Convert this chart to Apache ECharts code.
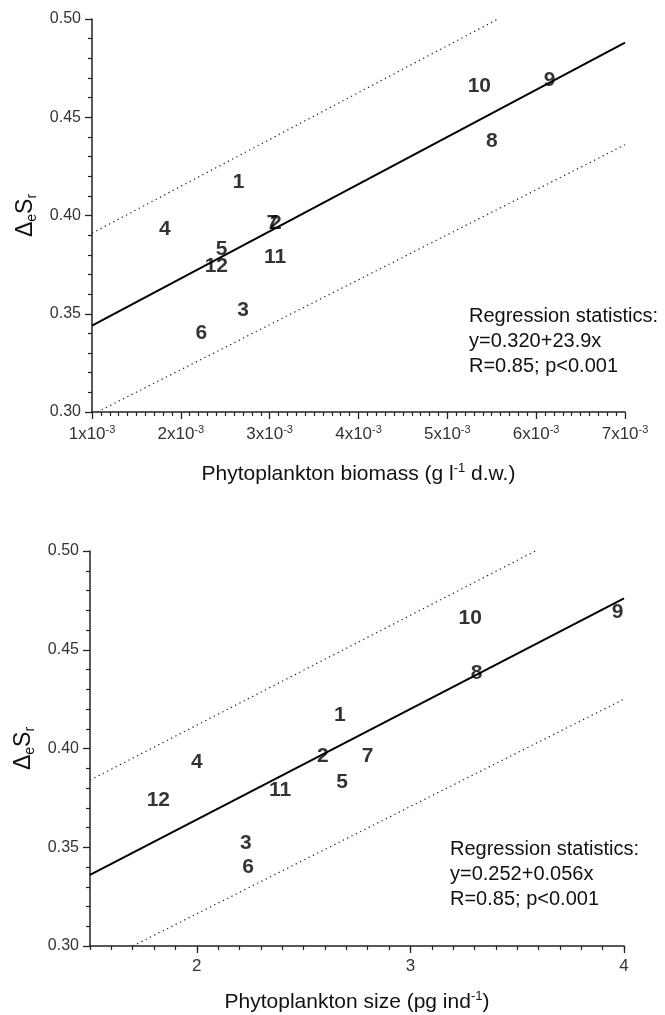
<!DOCTYPE html>
<html>
<head>
<meta charset="utf-8">
<script src="https://cdn.jsdelivr.net/npm/echarts@6/dist/echarts.min.js"></script>
<style>
  html, body { margin: 0; padding: 0; background: #fff; }
  #chart { width: 665px; height: 1015px; }
</style>
</head>
<body>
<div id="chart"></div>
<script>
// stations 1..12
const stations = ['1', '2', '3', '4', '5', '6', '7', '8', '9', '10', '11', '12']
const deltaSr = [0.417, 0.396, 0.352, 0.393, 0.383, 0.340, 0.396, 0.438, 0.469, 0.466, 0.379, 0.374]
const biomass = [0.00265, 0.00307, 0.00270, 0.00182, 0.00246, 0.00223, 0.00303, 0.00550, 0.00615, 0.00536, 0.00306, 0.00240]
const sizePg = [2.67, 2.59, 2.23, 2.00, 2.68, 2.24, 2.80, 3.31, 3.97, 3.28, 2.39, 1.82]

// regression + band lines
const fitBiomassX = [0.001, 0.007]
const fitBiomassY = [0.344, 0.488]
const upperBiomassX = [0.001, 0.00557]
const upperBiomassY = [0.391, 0.500]
const lowerBiomassX = [0.00106, 0.007]
const lowerBiomassY = [0.300, 0.436]

const fitSizeX = [1.5, 4.0]
const fitSizeY = [0.336, 0.476]
const upperSizeX = [1.5, 3.585]
const upperSizeY = [0.384, 0.500]
const lowerSizeX = [1.70, 4.0]
const lowerSizeY = [0.300, 0.425]

const sizeTickLabels = [2, 3, 4]
const statsBiomass = ['Regression statistics:', 'y=0.320+23.9x', 'R=0.85; p<0.001']
const statsSize = ['Regression statistics:', 'y=0.252+0.056x', 'R=0.85; p<0.001']

const FONT = 'Liberation Sans, Arial, sans-serif'
const INK = '#111'

function pairs(xs, ys) {
  return xs.map((x, i) => [x, ys[i]])
}

function yAxisFor(gridIndex, show) {
  return {
    type: 'value',
    gridIndex: gridIndex,
    show: show,
    min: 0.30,
    max: 0.50,
    interval: 0.05,
    name: '{a|Δ}{b|e}{a|S}{b|r}',
    nameLocation: 'middle',
    nameGap: 52,
    nameRotate: 90,
    nameTextStyle: {
      color: INK,
      fontFamily: FONT,
      rich: {
        a: { fontSize: 23, fontFamily: FONT, color: INK, lineHeight: 27 },
        b: { fontSize: 14, fontFamily: FONT, color: INK, verticalAlign: 'bottom', lineHeight: 27 }
      }
    },
    axisLine: { show: true, lineStyle: { color: '#222', width: 1.5 } },
    axisTick: { show: true, length: 7, lineStyle: { color: '#222', width: 1.3 } },
    minorTick: { show: true, splitNumber: 5, length: 4, lineStyle: { color: '#222', width: 1.2 } },
    axisLabel: {
      fontSize: 16,
      fontFamily: FONT,
      color: '#333',
      margin: 11,
      formatter: v => v.toFixed(2)
    },
    splitLine: { show: false },
    minorSplitLine: { show: false }
  }
}

function labelSeries(xs, xAxisIndex, yAxisIndex) {
  return {
    type: 'scatter',
    xAxisIndex: xAxisIndex,
    yAxisIndex: yAxisIndex,
    symbolSize: 1,
    itemStyle: { color: 'rgba(0,0,0,0)' },
    label: {
      show: true,
      position: 'inside',
      formatter: p => p.name,
      fontSize: 21,
      fontWeight: 'bold',
      fontFamily: FONT,
      color: '#000'
    },
    data: stations.map((s, i) => ({ name: s, value: [xs[i], deltaSr[i]] })),
    z: 5
  }
}

function lineSeries(data, xAxisIndex, yAxisIndex, dotted) {
  return {
    type: 'line',
    xAxisIndex: xAxisIndex,
    yAxisIndex: yAxisIndex,
    symbol: 'none',
    data: data,
    lineStyle: dotted
      ? { color: '#222', width: 1.2, type: [1.3, 3.5] }
      : { color: '#000', width: 2 },
    z: 3
  }
}

const chart = echarts.init(document.getElementById('chart'), null, { renderer: 'canvas' })

chart.setOption({
  animation: false,
  backgroundColor: '#fff',
  grid: [
    { left: 92, top: 19, right: 40, bottom: 603 },
    { left: 90, top: 551, right: 41, bottom: 69 },
    { left: 90, top: 551, right: 41, bottom: 69 }
  ],
  xAxis: [
    {
      type: 'value',
      gridIndex: 0,
      min: 0.001,
      max: 0.007,
      interval: 0.001,
      name: 'Phytoplankton biomass (g l{s|-1} d.w.)',
      nameLocation: 'middle',
      nameGap: 50,
      nameTextStyle: {
        fontSize: 21,
        fontFamily: FONT,
        color: INK,
        rich: { s: { fontSize: 13, fontFamily: FONT, color: INK, verticalAlign: 'top', lineHeight: 24 } }
      },
      axisLine: { onZero: false, lineStyle: { color: '#222', width: 1.5 } },
      axisTick: { length: 7, lineStyle: { color: '#222', width: 1.3 } },
      minorTick: { show: true, splitNumber: 10, length: 4, lineStyle: { color: '#222', width: 1.2 } },
      axisLabel: {
        margin: 12,
        color: '#333',
        fontFamily: FONT,
        fontSize: 17,
        formatter: v => '{a|' + Math.round(v * 1000) + 'x10}{s|-3}',
        rich: {
          a: { fontSize: 17, fontFamily: FONT, color: '#333', lineHeight: 21 },
          s: { fontSize: 11, fontFamily: FONT, color: '#333', verticalAlign: 'top', lineHeight: 21 }
        }
      },
      splitLine: { show: false },
      minorSplitLine: { show: false }
    },
    {
      // minor ticks for the size axis
      type: 'value',
      gridIndex: 1,
      min: 1.5,
      max: 4,
      interval: 0.1,
      axisLine: { onZero: false, lineStyle: { color: '#222', width: 1.5 } },
      axisTick: { length: 4, lineStyle: { color: '#222', width: 1.2 } },
      axisLabel: { show: false },
      splitLine: { show: false }
    },
    {
      type: 'value',
      gridIndex: 2,
      min: 1.5,
      max: 4,
      interval: 0.5,
      name: 'Phytoplankton size (pg ind{s|-1})',
      nameLocation: 'middle',
      nameGap: 44,
      nameTextStyle: {
        fontSize: 21,
        fontFamily: FONT,
        color: INK,
        rich: { s: { fontSize: 13, fontFamily: FONT, color: INK, verticalAlign: 'top', lineHeight: 24 } }
      },
      axisLine: { show: false, onZero: false },
      axisTick: { length: 7, customValues: sizeTickLabels, lineStyle: { color: '#222', width: 1.3 } },
      axisLabel: {
        margin: 12,
        color: '#333',
        fontFamily: FONT,
        fontSize: 17,
        customValues: sizeTickLabels,
        formatter: v => (Math.abs(v - Math.round(v)) < 1e-6 ? String(Math.round(v)) : '')
      },
      splitLine: { show: false }
    }
  ],
  yAxis: [
    yAxisFor(0, true),
    yAxisFor(1, true),
    yAxisFor(2, false)
  ],
  series: [
    lineSeries(pairs(upperBiomassX, upperBiomassY), 0, 0, true),
    lineSeries(pairs(lowerBiomassX, lowerBiomassY), 0, 0, true),
    lineSeries(pairs(fitBiomassX, fitBiomassY), 0, 0, false),
    labelSeries(biomass, 0, 0),
    lineSeries(pairs(upperSizeX, upperSizeY), 1, 1, true),
    lineSeries(pairs(lowerSizeX, lowerSizeY), 1, 1, true),
    lineSeries(pairs(fitSizeX, fitSizeY), 1, 1, false),
    labelSeries(sizePg, 1, 1)
  ],
  graphic: [
    {
      type: 'text',
      left: 469,
      top: 304,
      style: { text: statsBiomass.join('\n'), font: '20px ' + FONT, lineHeight: 25, fill: INK }
    },
    {
      type: 'text',
      left: 450,
      top: 837,
      style: { text: statsSize.join('\n'), font: '20px ' + FONT, lineHeight: 25, fill: INK }
    }
  ]
})
</script>
</body>
</html>
